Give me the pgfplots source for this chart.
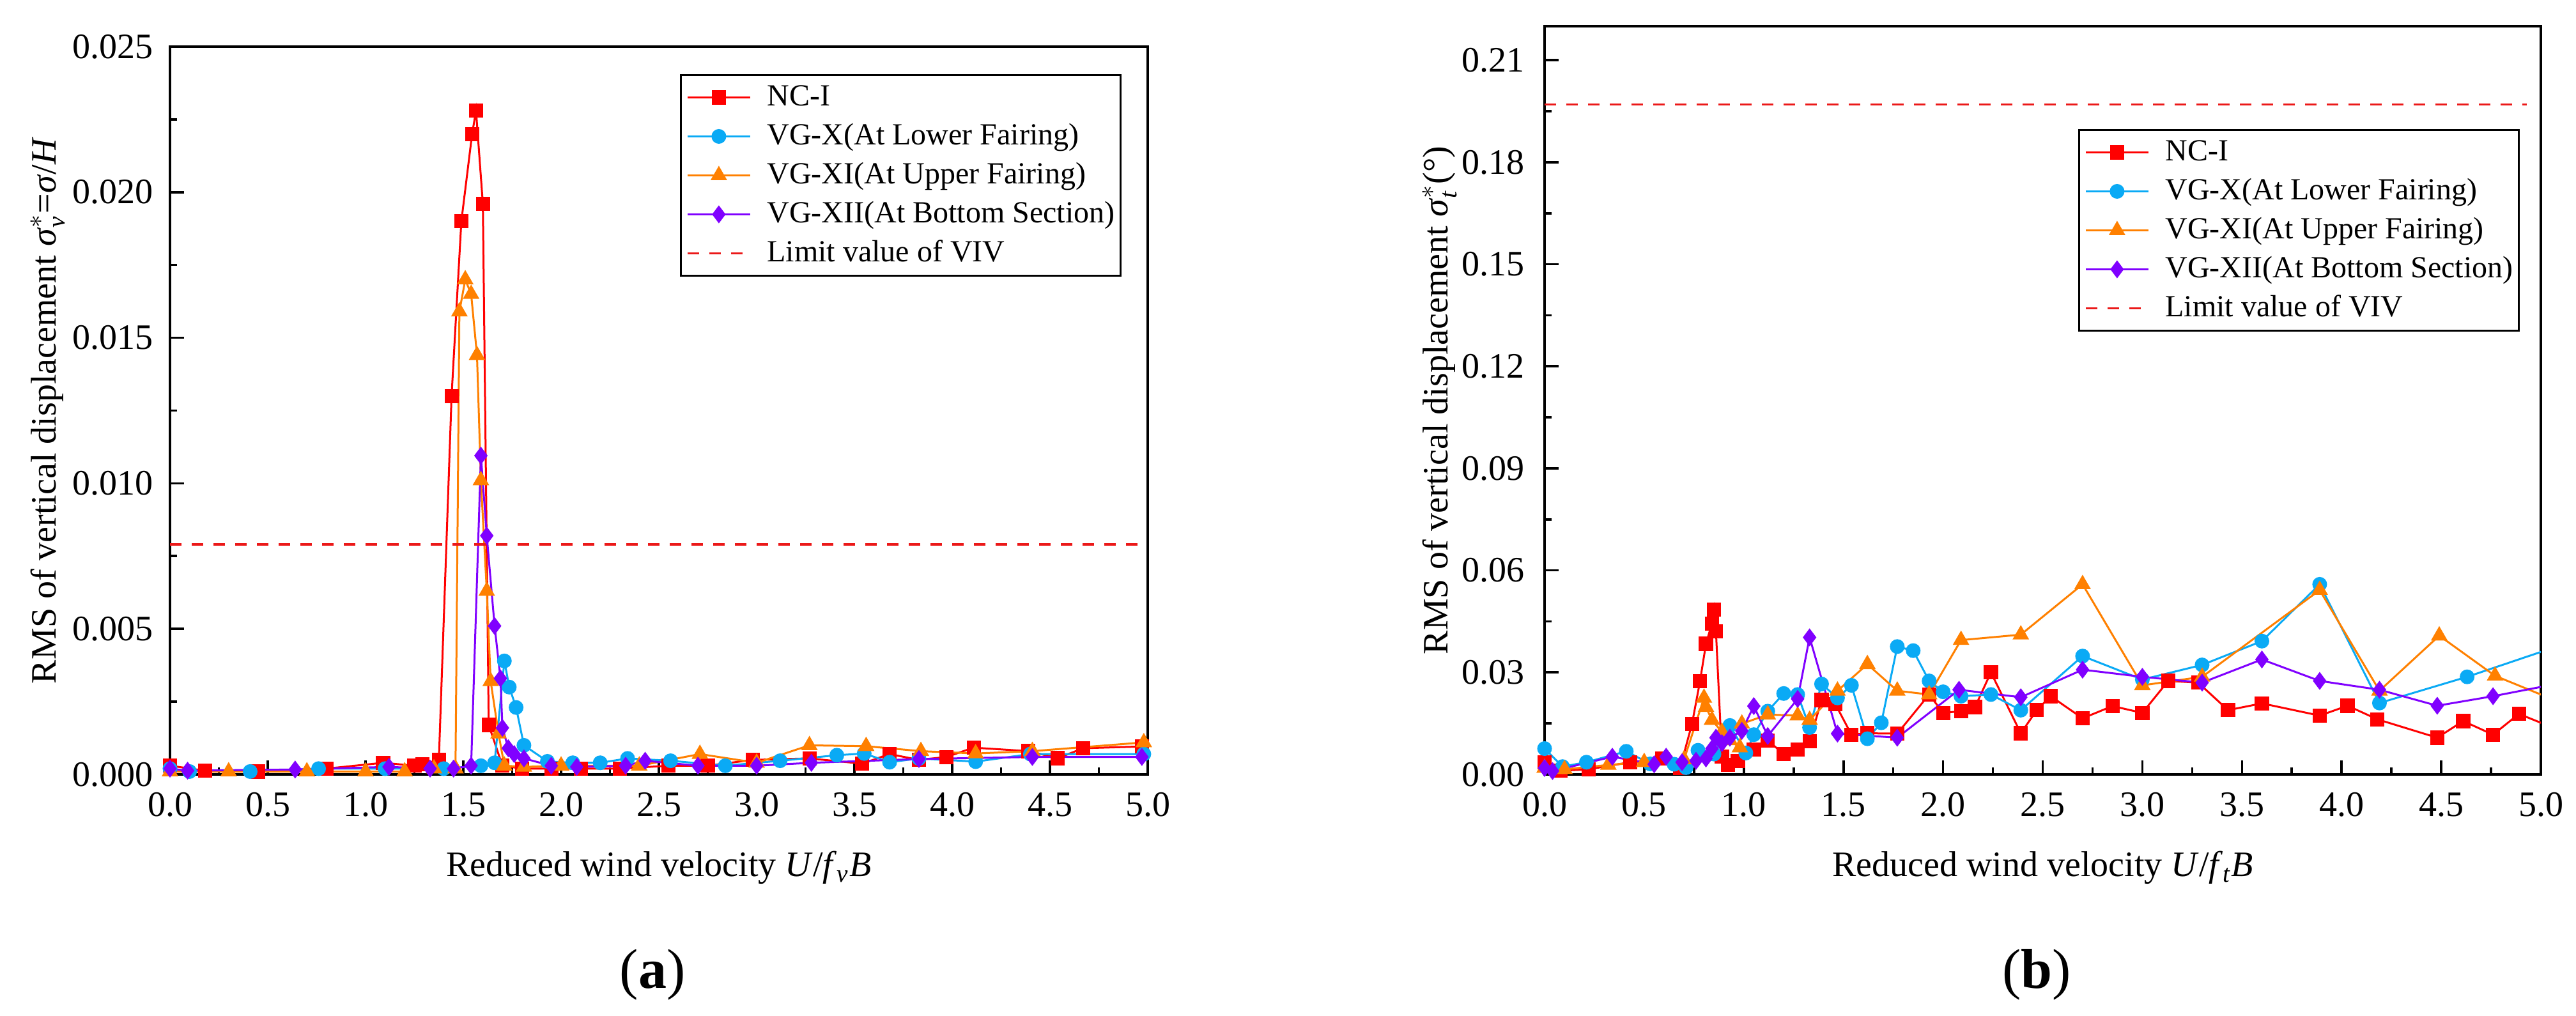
\documentclass[border=0pt]{standalone}
\usepackage{amsmath}
\usepackage{fontspec}
\setmainfont{Liberation Serif}
\usepackage{pgfplots}
\pgfplotsset{compat=1.18}
\definecolor{cNC}{RGB}{255,0,0}
\definecolor{cX}{RGB}{10,170,245}
\definecolor{cXI}{RGB}{255,128,0}
\definecolor{cXII}{RGB}{128,0,255}
\definecolor{cLim}{RGB}{235,25,25}
\newcommand{\labfont}{\fontsize{14}{16}\selectfont}
\pgfplotsset{
  panel/.style={
    scale only axis,
    clip=true,
    xmin=0, xmax=5, ymin=0,
    xtick={0,0.5,1,1.5,2,2.5,3,3.5,4,4.5,5},
    minor x tick num=1,
    minor y tick num=1,
    tick align=inside,
    tick pos=left,
    major tick length=5.5pt,
    minor tick length=2.75pt,
    tick style={black, line width=0.9pt},
    axis line style={line width=1.1pt, black},
    scaled y ticks=false,
    scaled x ticks=false,
    tick label style={font=\labfont},
    xticklabel style={anchor=base, inner sep=0pt, yshift=-16.5pt},
    x tick label style={/pgf/number format/.cd, fixed, fixed zerofill, precision=1, assume math mode=true, /tikz/.cd},
    every axis x label/.style={at={(axis description cs:0.5,0)}, anchor=base, yshift=-40pt, font=\labfont},
    legend cell align=left,
    legend style={draw=black, line width=0.8pt, font=\fontsize{12}{14}\selectfont,
      inner xsep=2.25pt, inner ysep=1.1pt, column sep=6.25pt,
      nodes={inner sep=0pt, text height=11pt, text depth=4.25pt}},
    legend image code/.code={\draw[mark repeat=2, mark phase=2] plot coordinates {(0pt,0pt) (12.25pt,0pt) (24.5pt,0pt)};},
  },
  sNC/.style={color=cNC, line width=0.75pt, mark=square*, mark size=2.4pt, mark options={solid, fill=cNC}},
  sX/.style={color=cX, line width=0.75pt, mark=*, mark size=2.5pt, mark options={solid, fill=cX}},
  sXI/.style={color=cXI, line width=0.75pt, mark=triangle*, mark size=3pt, mark options={solid, fill=cXI}},
  sXII/.style={color=cXII, line width=0.75pt, mark=diamond*, mark size=2.9pt, mark options={solid, fill=cXII}},
  sLim/.style={color=cLim, line width=0.8pt, dash pattern=on 4.5pt off 4pt, no marks},
}
\begin{document}
\begin{tikzpicture}
\path[use as bounding box] (0,0) rectangle (1007.75pt,397.5pt);

% ---------------- panel (a) ----------------
\begin{axis}[panel,
  at={(66.5pt,94.5pt)}, anchor=south west,
  width=382.5pt, height=284.75pt,
  ymax=0.025,
  ytick={0,0.005,0.01,0.015,0.02,0.025},
  yticklabel style={anchor=east, inner sep=0pt, xshift=-6.5pt},
  y tick label style={/pgf/number format/.cd, fixed, fixed zerofill, precision=3, assume math mode=true, /tikz/.cd},
  every axis y label/.style={at={(axis description cs:0,0.5)}, rotate=90, anchor=base, yshift=44.75pt, font=\labfont},
  xlabel={Reduced wind velocity \textit{U}/\textit{f}$_{\textit{v}}$\textit{B}},
  ylabel={RMS of vertical displacement \textit{σ}$^{*}_{\textit{v}}$=\textit{σ}/\textit{H}},
  legend style={at={(1,1)}, anchor=north east, xshift=-10.25pt, yshift=-10.75pt},
]
\addplot[sNC] coordinates {
(0.00,0.0003) (0.18,0.00013) (0.45,0.0001) (0.80,0.0002) (1.09,0.0004) (1.25,0.0003) (1.29,0.00035) (1.375,0.0005)
(1.44,0.0130) (1.49,0.0190) (1.545,0.0220) (1.565,0.0228) (1.60,0.0196) (1.63,0.0017) (1.70,0.0003) (1.80,0.0002)
(1.95,0.0002) (2.10,0.0002) (2.30,0.0002) (2.55,0.0003) (2.75,0.0003) (2.98,0.0005) (3.27,0.00055) (3.54,0.00037)
(3.68,0.0007) (3.83,0.0005) (3.97,0.0006) (4.11,0.00092) (4.39,0.0008) (4.54,0.00056) (4.67,0.0009) (4.97,0.00096)
};
\addlegendentry{NC-I}
\addplot[sX] coordinates {
(0.00,0.0002) (0.10,0.0001) (0.41,0.0001) (0.76,0.0002) (1.10,0.0002) (1.40,0.0002) (1.59,0.0003) (1.66,0.0004)
(1.71,0.0039) (1.735,0.0030) (1.77,0.0023) (1.81,0.0010) (1.93,0.00045) (2.06,0.0004) (2.20,0.0004) (2.34,0.00055)
(2.56,0.00047) (2.84,0.0003) (3.12,0.00047) (3.41,0.00066) (3.55,0.00072) (3.68,0.00042) (3.83,0.00055) (4.12,0.00044)
(4.40,0.0007) (4.98,0.0007)
};
\addlegendentry{VG-X(At Lower Fairing)}
\addplot[sXI] coordinates {
(0.00,0.0001) (0.30,0.0001) (0.70,0.0001) (1.00,0.0001) (1.20,0.0001) (1.35,0.0002) (1.46,0.0002) (1.48,0.0159)
(1.51,0.0170) (1.54,0.0165) (1.57,0.0144) (1.59,0.0101) (1.62,0.0063) (1.64,0.0032) (1.68,0.0014) (1.71,0.0003)
(1.81,0.00026) (2.00,0.0003) (2.40,0.0003) (2.71,0.0007) (3.00,0.0004) (3.27,0.0010) (3.56,0.00097) (3.84,0.0008)
(4.12,0.00072) (4.41,0.00080) (4.98,0.0011)
};
\addlegendentry{VG-XI(At Upper Fairing)}
\addplot[sXII] coordinates {
(0.00,0.0002) (0.09,0.00013) (0.64,0.00017) (1.12,0.00026) (1.33,0.0002) (1.45,0.0002) (1.54,0.0003) (1.59,0.01095)
(1.62,0.0082) (1.66,0.0051) (1.69,0.0033) (1.70,0.0016) (1.73,0.0009) (1.76,0.0007) (1.81,0.00055) (1.95,0.0003)
(2.08,0.00026) (2.33,0.0003) (2.43,0.00047) (2.70,0.0003) (3.00,0.0003) (3.28,0.0004) (3.83,0.00053) (4.41,0.0006)
(4.97,0.0006)
};
\addlegendentry{VG-XII(At Bottom Section)}
\addplot[sLim] coordinates {(0,0.0079) (5,0.0079)};
\addlegendentry{Limit value of VIV}
\end{axis}

% ---------------- panel (b) ----------------
\begin{axis}[panel,
  at={(604.25pt,94.5pt)}, anchor=south west,
  width=389.75pt, height=292.75pt,
  ymax=0.22,
  ytick={0,0.03,0.06,0.09,0.12,0.15,0.18,0.21},
  yticklabel style={anchor=east, inner sep=0pt, xshift=-7.75pt},
  y tick label style={/pgf/number format/.cd, fixed, fixed zerofill, precision=2, assume math mode=true, /tikz/.cd},
  every axis y label/.style={at={(axis description cs:0,0.5)}, rotate=90, anchor=base, yshift=38pt, font=\labfont},
  xlabel={Reduced wind velocity \textit{U}/\textit{f}$_{\textit{t}}$\textit{B}},
  ylabel={RMS of vertical displacement \textit{σ}$^{*}_{\textit{t}}$(°)},
  legend style={at={(1,1)}, anchor=north east, xshift=-8.25pt, yshift=-40.25pt},
]
\addplot[sNC] coordinates {
(0.00,0.0036) (0.08,0.0011) (0.22,0.0015) (0.43,0.0036) (0.59,0.0047) (0.68,0.0019) (0.74,0.0149) (0.78,0.0274)
(0.81,0.0384) (0.84,0.0444) (0.85,0.0484) (0.86,0.0421) (0.89,0.0052) (0.92,0.0028) (0.97,0.0040) (1.05,0.0073)
(1.12,0.0100) (1.20,0.0060) (1.27,0.0073) (1.33,0.0097) (1.39,0.0219) (1.46,0.0206) (1.54,0.0117) (1.62,0.0121)
(1.77,0.0120) (1.93,0.0235) (2.00,0.0181) (2.09,0.0186) (2.16,0.0198) (2.24,0.0300) (2.39,0.0121) (2.47,0.0189)
(2.54,0.0230) (2.70,0.0165) (2.85,0.0201) (3.00,0.0181) (3.13,0.0275) (3.28,0.0270) (3.43,0.0189) (3.60,0.0209)
(3.89,0.0173) (4.03,0.0202) (4.18,0.0162) (4.48,0.0108) (4.61,0.0157) (4.76,0.0117) (4.89,0.0178) (5.05,0.0140)
};
\addlegendentry{NC-I}
\addplot[sX] coordinates {
(0.00,0.0076) (0.09,0.0023) (0.21,0.0036) (0.41,0.0068) (0.53,0.0031) (0.65,0.0030) (0.71,0.0020) (0.77,0.0071)
(0.85,0.0060) (0.93,0.0144) (1.01,0.0063) (1.05,0.0117) (1.12,0.0186) (1.20,0.0238) (1.27,0.0235) (1.33,0.0138)
(1.39,0.0266) (1.47,0.0225) (1.54,0.0262) (1.62,0.0105) (1.69,0.0152) (1.77,0.0376) (1.85,0.0364) (1.93,0.0275)
(2.00,0.0243) (2.09,0.0230) (2.24,0.0235) (2.39,0.0189) (2.70,0.0348) (3.00,0.0279) (3.30,0.0322) (3.60,0.0392)
(3.89,0.0559) (4.19,0.0210) (4.63,0.0287) (5.05,0.0370)
};
\addlegendentry{VG-X(At Lower Fairing)}
\addplot[sXI] coordinates {
(0.00,0.0019) (0.10,0.0015) (0.32,0.0028) (0.50,0.0036) (0.70,0.0044) (0.80,0.0225) (0.81,0.0198) (0.84,0.0160)
(0.89,0.0125) (0.93,0.0100) (0.98,0.0079) (0.99,0.0149) (1.12,0.0176) (1.27,0.0173) (1.33,0.0160) (1.47,0.0246)
(1.62,0.0324) (1.77,0.0246) (1.93,0.0235) (2.09,0.0395) (2.39,0.0411) (2.70,0.0559) (3.00,0.0262) (3.30,0.0287)
(3.89,0.0542) (4.19,0.0246) (4.49,0.0408) (4.77,0.0290) (5.05,0.0223)
};
\addlegendentry{VG-XI(At Upper Fairing)}
\addplot[sXII] coordinates {
(0.00,0.0019) (0.04,0.0010) (0.34,0.0052) (0.55,0.0030) (0.61,0.0052) (0.69,0.0036) (0.76,0.0040) (0.81,0.0047)
(0.84,0.0076) (0.86,0.0108) (0.89,0.0092) (0.93,0.0108) (0.99,0.0128) (1.05,0.0201) (1.12,0.0113) (1.27,0.0222)
(1.33,0.0403) (1.47,0.0120) (1.77,0.0108) (2.08,0.0249) (2.39,0.0227) (2.70,0.0308) (3.00,0.0287) (3.30,0.0270)
(3.60,0.0338) (3.89,0.0275) (4.19,0.0249) (4.48,0.0202) (4.76,0.0230) (5.05,0.0263)
};
\addlegendentry{VG-XII(At Bottom Section)}
\addplot[sLim] coordinates {(0,0.197) (4.93,0.197)};
\addlegendentry{Limit value of VIV}
\end{axis}

\node[font=\fontsize{22}{26}\selectfont, anchor=base] at (255.25pt,10.75pt) {(\textbf{a})};
\node[font=\fontsize{22}{26}\selectfont, anchor=base] at (796.75pt,10.75pt) {(\textbf{b})};
\end{tikzpicture}
\end{document}
